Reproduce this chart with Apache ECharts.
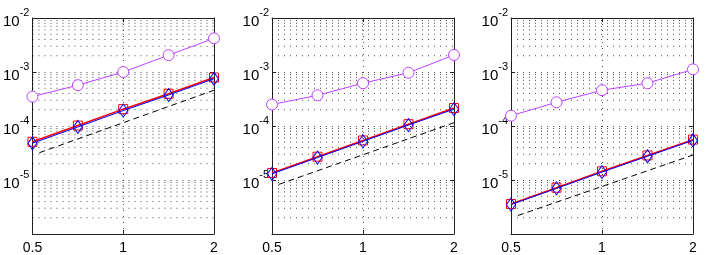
<!DOCTYPE html>
<html><head><meta charset="utf-8">
<script src="https://cdn.jsdelivr.net/npm/echarts@6/dist/echarts.min.js"></script>
<style>html,body{margin:0;padding:0;background:#fff}#c{width:708px;height:255px}</style>
</head><body><div id="c"></div>
<script>
// x samples
const xVals = [0.5, 0.7071, 1, 1.4142, 2];
const xDash = [0.527, 2];
const xTicks = [0.5, 1, 2];
const yTicks = [1e-6, 1e-5, 1e-4, 1e-3, 1e-2];
const yMinor = [2e-6,3e-6,4e-6,5e-6,6e-6,7e-6,8e-6,9e-6,
                2e-5,3e-5,4e-5,5e-5,6e-5,7e-5,8e-5,9e-5,
                2e-4,3e-4,4e-4,5e-4,6e-4,7e-4,8e-4,9e-4,
                2e-3,3e-3,4e-3,5e-3,6e-3,7e-3,8e-3,9e-3];

// panel 1
const p1Purple = [3.5e-4, 5.7e-4, 1.0e-3, 2.05e-3, 4.2e-3];
const p1Red    = [5.1e-5, 1.02e-4, 2.05e-4, 3.95e-4, 7.9e-4];
const p1Blue   = [4.8e-5, 9.6e-5, 1.93e-4, 3.75e-4, 7.5e-4];
const p1Dash   = [3.2e-5, 4.6e-4];
// panel 2
const p2Purple = [2.5e-4, 3.7e-4, 6.2e-4, 9.7e-4, 2.07e-3];
const p2Red    = [1.35e-5, 2.7e-5, 5.4e-5, 1.08e-4, 2.15e-4];
const p2Blue   = [1.3e-5, 2.6e-5, 5.2e-5, 1.04e-4, 2.05e-4];
const p2Dash   = [8.3e-6, 1.15e-4];
// panel 3
const p3Purple = [1.55e-4, 2.75e-4, 4.6e-4, 6.2e-4, 1.12e-3];
const p3Red    = [3.6e-6, 7.2e-6, 1.45e-5, 2.85e-5, 5.6e-5];
const p3Blue   = [3.5e-6, 7.0e-6, 1.4e-5, 2.75e-5, 5.4e-5];
const p3Dash   = [2.2e-6, 2.9e-5];

const panels = [
  {purple:p1Purple, red:p1Red, blue:p1Blue, dash:p1Dash},
  {purple:p2Purple, red:p2Red, blue:p2Blue, dash:p2Dash},
  {purple:p3Purple, red:p3Red, blue:p3Blue, dash:p3Dash}
];
const lefts = [32, 272, 511];
const FONT = 'Liberation Sans, Arial, sans-serif';
const dotted = {type:[1,5], color:'#000', width:1, opacity:0.7};
const pairs = (xs, ys) => xs.map((x,i)=>[x, ys[i]]);
// minor grid line data: segments across the full x range, broken by '-'
const minorData = [];
yMinor.forEach(v => { minorData.push([0.5, v], [2, v], '-'); });

const grid = [], xAxis = [], yAxis = [], series = [];
panels.forEach((p, i) => {
  grid.push({left: lefts[i], top: 18, width: 182, height: 219});
  const xBase = {gridIndex:i, type:'log', logBase:2, min:0.5, max:2,
    axisLine:{show:true, onZero:false, lineStyle:{color:'#222', width:1}},
    axisTick:{show:true, inside:true, length:4, lineStyle:{color:'#222'}}};
  xAxis.push(Object.assign({}, xBase, {position:'bottom',
    axisLabel:{show:true, color:'#000', fontFamily:FONT, fontSize:14, margin:7,
      formatter: v => String(+v.toFixed(2))},
    splitLine:{show:true, lineStyle:dotted}}));
  xAxis.push(Object.assign({}, xBase, {position:'top', axisLabel:{show:false}, splitLine:{show:false}}));
  const yBase = {gridIndex:i, type:'log', logBase:10, min:1e-6, max:1e-2,
    axisLine:{show:true, onZero:false, lineStyle:{color:'#222', width:1}},
    axisTick:{show:true, inside:true, length:4, lineStyle:{color:'#222'}}};
  yAxis.push(Object.assign({}, yBase, {position:'left',
    axisLabel:{show:true, margin:3, align:'right',
      formatter: v => { const e = Math.round(Math.log10(v)); return e === -6 ? '' : '{b|10}{s|' + e + '}'; },
      rich:{b:{fontFamily:FONT, fontSize:15, color:'#000', lineHeight:22, verticalAlign:'bottom', padding:[8,0,0,0]},
            s:{fontFamily:FONT, fontSize:11, color:'#000', lineHeight:22, verticalAlign:'top', padding:[0,0,8,0]}}},
    splitLine:{show:true, lineStyle:dotted}}));
  yAxis.push(Object.assign({}, yBase, {position:'right', axisLabel:{show:false}, splitLine:{show:false}}));
  const xi = i*2, yi = i*2;
  series.push({type:'line', xAxisIndex:xi, yAxisIndex:yi, data:minorData, silent:true,
    symbol:'none', connectNulls:false, lineStyle:dotted, z:1});
  series.push({type:'line', xAxisIndex:xi, yAxisIndex:yi, data:pairs(xDash, p.dash),
    symbol:'none', lineStyle:{color:'#000', width:1, type:[6,4]}, z:2});
  series.push({type:'line', xAxisIndex:xi, yAxisIndex:yi, data:pairs(xVals, p.purple),
    symbol:'circle', symbolSize:11, itemStyle:{color:'#fff', borderColor:'#bf40ff', borderWidth:1},
    lineStyle:{color:'#bf40ff', width:1}, z:3});
  series.push({type:'line', xAxisIndex:xi, yAxisIndex:yi, data:pairs(xVals, p.red),
    symbol:'rect', symbolSize:9, itemStyle:{color:'rgba(0,0,0,0)', borderColor:'#ff0000', borderWidth:1},
    lineStyle:{color:'#ff0000', width:1.5}, z:4});
  series.push({type:'line', xAxisIndex:xi, yAxisIndex:yi, data:pairs(xVals, p.blue),
    symbol:'diamond', symbolSize:[9,13], itemStyle:{color:'rgba(0,0,0,0)', borderColor:'#0000ff', borderWidth:1},
    lineStyle:{color:'#0000ff', width:1}, z:5});
});

const chart = echarts.init(document.getElementById('c'), null, {renderer:'canvas'});
chart.setOption({animation:false, grid, xAxis, yAxis, series});
</script></body></html>
